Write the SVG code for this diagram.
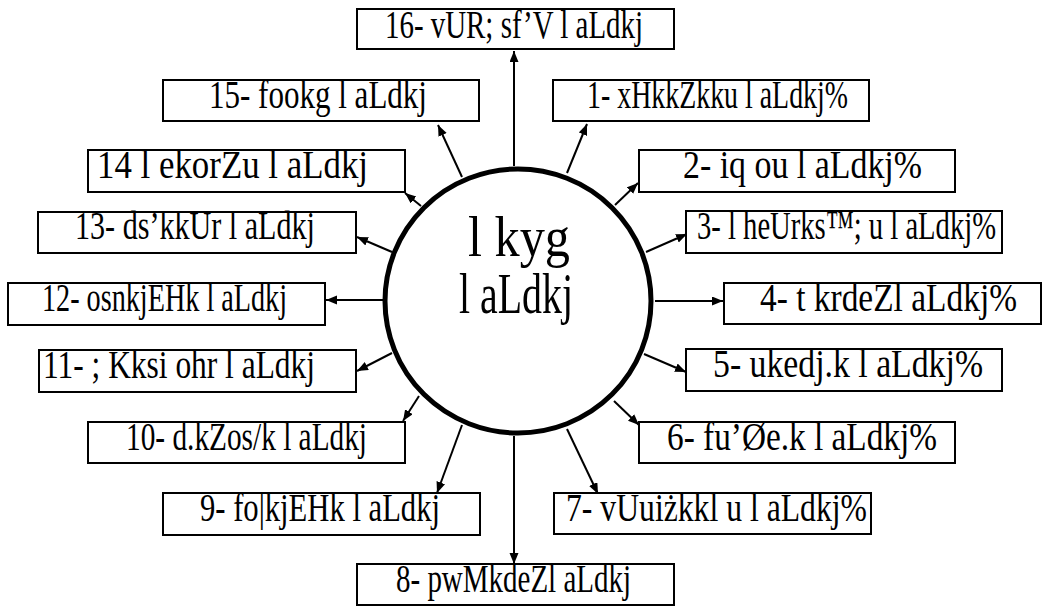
<svg xmlns="http://www.w3.org/2000/svg" width="1044" height="606" viewBox="0 0 1044 606">
<style>
.box{fill:#fff;stroke:#000;stroke-width:2}
.ln{stroke:#000;stroke-width:2;fill:none;marker-end:url(#ah)}
</style>
<defs>
<marker id="ah" markerUnits="userSpaceOnUse" markerWidth="12" markerHeight="10" refX="11" refY="4.5" orient="auto">
<path d="M0,0 L11,4.5 L0,9 z" fill="#000"/>
</marker>
</defs>
<rect width="1044" height="606" fill="#fff"/>
<g id="connectors">
<line class="ln" x1="514" y1="166" x2="514" y2="51"/>
<line class="ln" x1="567" y1="173" x2="587" y2="124"/>
<line class="ln" x1="615" y1="205" x2="638" y2="183"/>
<line class="ln" x1="646" y1="252" x2="687" y2="234"/>
<line class="ln" x1="655" y1="301" x2="723" y2="301"/>
<line class="ln" x1="644" y1="354" x2="686" y2="372"/>
<line class="ln" x1="614" y1="401" x2="639" y2="425"/>
<line class="ln" x1="567" y1="429" x2="598" y2="494"/>
<line class="ln" x1="514" y1="436" x2="514" y2="564"/>
<line class="ln" x1="462" y1="425" x2="437" y2="493"/>
<line class="ln" x1="419" y1="396" x2="403" y2="421"/>
<line class="ln" x1="392" y1="353" x2="357" y2="371"/>
<line class="ln" x1="383" y1="300" x2="326" y2="300"/>
<line class="ln" x1="392" y1="252" x2="357" y2="237"/>
<line class="ln" x1="421" y1="206" x2="405" y2="193"/>
<line class="ln" x1="462" y1="177" x2="438" y2="125"/>
</g>
<g id="center" font-family="Liberation Serif, Times New Roman, serif" font-size="58">
<ellipse cx="518" cy="301" rx="133" ry="132" fill="#fff" stroke="#000" stroke-width="5"/>
<text x="468" y="256" textLength="102" lengthAdjust="spacingAndGlyphs">l kyg</text>
<text x="459" y="313" textLength="114" lengthAdjust="spacingAndGlyphs">l aLdkj</text>
</g>
<g font-family="Liberation Serif, Times New Roman, serif" font-size="41">
<g id="n16"><rect class="box" x="357" y="9" width="317" height="40"/><text x="385" y="38" textLength="258" lengthAdjust="spacingAndGlyphs">16- vUR; sf’V l aLdkj</text></g>
<g id="n1"><rect class="box" x="553" y="80" width="316" height="41"/><text x="587" y="108" textLength="261" lengthAdjust="spacingAndGlyphs">1- xHkkZkku l aLdkj%</text></g>
<g id="n2"><rect class="box" x="639" y="150" width="316" height="42"/><text x="683" y="178" textLength="239" lengthAdjust="spacingAndGlyphs">2- iq ou l aLdkj%</text></g>
<g id="n3"><rect class="box" x="686" y="211" width="316" height="42"/><text x="697" y="239" textLength="299" lengthAdjust="spacingAndGlyphs">3- l heUrks™; u l aLdkj%</text></g>
<g id="n4"><rect class="box" x="724" y="283" width="317" height="41"/><text x="760" y="311" textLength="257" lengthAdjust="spacingAndGlyphs">4- t krdeZl aLdkj%</text></g>
<g id="n5"><rect class="box" x="686" y="349" width="316" height="42"/><text x="713" y="377" textLength="270" lengthAdjust="spacingAndGlyphs">5- ukedj.k l aLdkj%</text></g>
<g id="n6"><rect class="box" x="639" y="422" width="316" height="41"/><text x="667" y="450" textLength="270" lengthAdjust="spacingAndGlyphs">6- fu’Øe.k l aLdkj%</text></g>
<g id="n7"><rect class="box" x="554" y="493" width="317" height="41"/><text x="566" y="521" textLength="301" lengthAdjust="spacingAndGlyphs">7- vUuiżkkl u l aLdkj%</text></g>
<g id="n8"><rect class="box" x="357" y="564" width="317" height="41"/><text x="396" y="592" textLength="235" lengthAdjust="spacingAndGlyphs">8- pwMkdeZl aLdkj</text></g>
<g id="n9"><rect class="box" x="163" y="493" width="317" height="42"/><text x="200" y="521" textLength="240" lengthAdjust="spacingAndGlyphs">9- fo|kjEHk l aLdkj</text></g>
<g id="n10"><rect class="box" x="88" y="422" width="317" height="41"/><text x="126" y="450" textLength="241" lengthAdjust="spacingAndGlyphs">10- d.kZos/k l aLdkj</text></g>
<g id="n11"><rect class="box" x="39" y="350" width="317" height="42"/><text x="43" y="378" textLength="272" lengthAdjust="spacingAndGlyphs">11- ; Kksi ohr l aLdkj</text></g>
<g id="n12"><rect class="box" x="8" y="283" width="317" height="42"/><text x="42" y="311" textLength="245" lengthAdjust="spacingAndGlyphs">12- osnkjEHk l aLdkj</text></g>
<g id="n13"><rect class="box" x="38" y="212" width="318" height="41"/><text x="75" y="239" textLength="240" lengthAdjust="spacingAndGlyphs">13- ds’kkUr l aLdkj</text></g>
<g id="n14"><rect class="box" x="88" y="150" width="317" height="42"/><text x="97" y="178" textLength="271" lengthAdjust="spacingAndGlyphs">14 l ekorZu l aLdkj</text></g>
<g id="n15"><rect class="box" x="163" y="80" width="316" height="41"/><text x="209" y="108" textLength="218" lengthAdjust="spacingAndGlyphs">15- fookg l aLdkj</text></g>
</g>
</svg>
